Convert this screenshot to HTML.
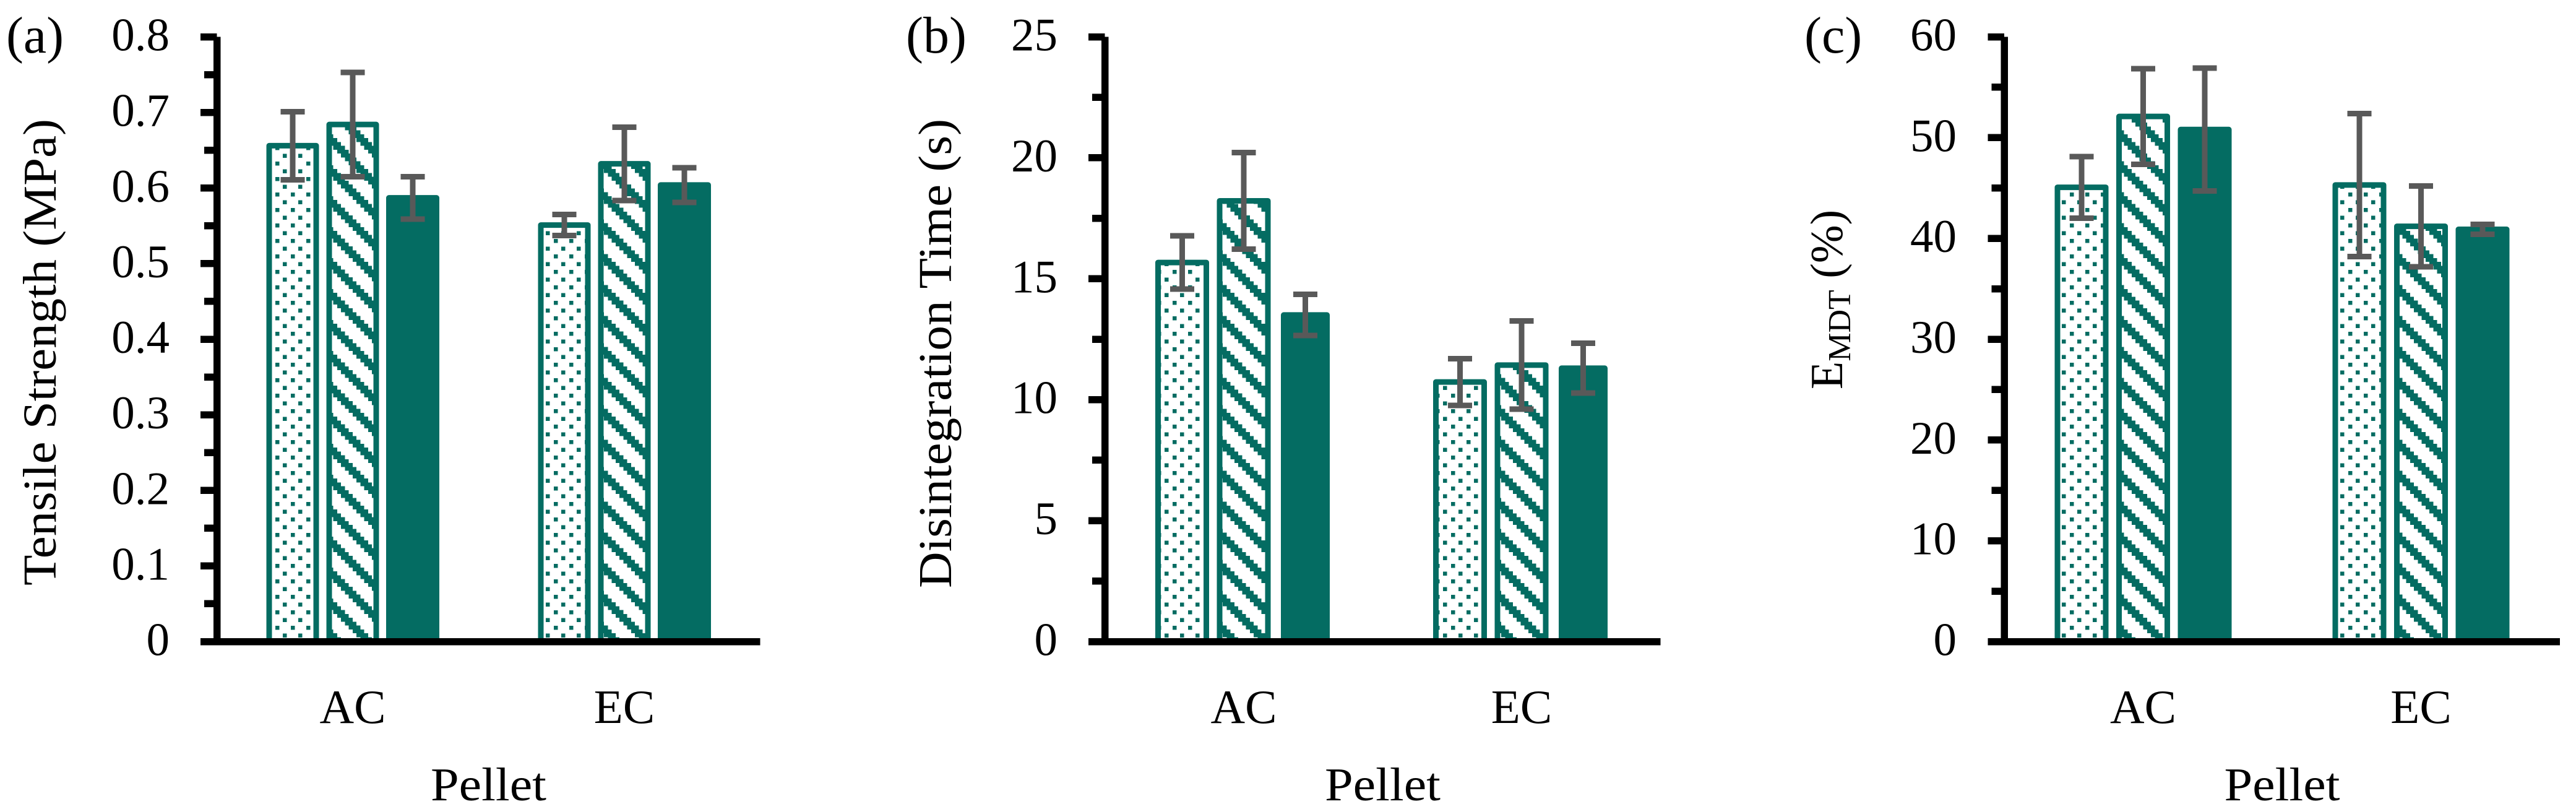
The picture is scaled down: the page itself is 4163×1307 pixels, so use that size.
<!DOCTYPE html>
<html lang="en">
<head>
<meta charset="utf-8">
<title>Pellet tensile strength, disintegration time and EMDT</title>
<style>
html,body{margin:0;padding:0;background:#fff;}
svg{display:block;font-family:"Liberation Serif",serif;fill:#000;}
</style>
</head>
<body>
<svg id="figure" xmlns="http://www.w3.org/2000/svg" width="4163" height="1307" viewBox="0 0 4163 1307">
  <defs>
    <pattern id="dots" patternUnits="userSpaceOnUse" x="7" y="11" width="25" height="25">
      <rect width="25" height="25" fill="#fff"/>
      <rect x="13" y="0" width="6.25" height="6.25" fill="#046c62" shape-rendering="crispEdges"/>
      <rect x="0" y="12.5" width="6.25" height="6.25" fill="#046c62" shape-rendering="crispEdges"/>
    </pattern>
    <pattern id="hatch" patternUnits="userSpaceOnUse" x="1" y="48" width="50" height="50">
      <rect width="50" height="50" fill="#fff"/>
      <g fill="#046c62" shape-rendering="crispEdges">
        <rect x="0" y="0" width="18.75" height="6.25"/>
        <rect x="6.25" y="6.25" width="18.75" height="6.25"/>
        <rect x="12.5" y="12.5" width="18.75" height="6.25"/>
        <rect x="18.75" y="18.75" width="18.75" height="6.25"/>
        <rect x="25" y="25" width="18.75" height="6.25"/>
        <rect x="31.25" y="31.25" width="18.75" height="6.25"/>
        <rect x="37.5" y="37.5" width="12.5" height="6.25"/>
        <rect x="0" y="37.5" width="6.25" height="6.25"/>
        <rect x="43.75" y="43.75" width="6.25" height="6.25"/>
        <rect x="0" y="43.75" width="12.5" height="6.25"/>
      </g>
    </pattern>
  </defs>

  <g id="panel-a">
    <text x="10" y="85" font-size="84" textLength="93" lengthAdjust="spacingAndGlyphs">(a)</text>
    <text transform="translate(90,946) rotate(-90)" font-size="76" textLength="754" lengthAdjust="spacingAndGlyphs">Tensile Strength (MPa)</text>
    <text x="789.5" y="1293" font-size="76" text-anchor="middle" textLength="187" lengthAdjust="spacingAndGlyphs">Pellet</text>
  </g>
  <g id="panel-b">
    <text x="1464" y="85" font-size="84">(b)</text>
    <text transform="translate(1537,950) rotate(-90)" font-size="76" textLength="758" lengthAdjust="spacingAndGlyphs">Disintegration Time (s)</text>
    <text x="2234.5" y="1293" font-size="76" text-anchor="middle" textLength="187" lengthAdjust="spacingAndGlyphs">Pellet</text>
  </g>
  <g id="panel-c">
    <text x="2916" y="85" font-size="84">(c)</text>
    <text transform="translate(2977,629) rotate(-90)" font-size="74">E<tspan font-size="52" dy="13">MDT</tspan><tspan dy="-13"> (%)</tspan></text>
    <text x="3688" y="1293" font-size="76" text-anchor="middle" textLength="187" lengthAdjust="spacingAndGlyphs">Pellet</text>
  </g>
</svg>

<script>
// Shared categories and series
const categories = ['AC', 'EC'];
const seriesNames = ['dotted', 'hatched', 'solid'];

// Panel (a): tensile strength (MPa)
const tensileTicks = ['0', '0.1', '0.2', '0.3', '0.4', '0.5', '0.6', '0.7', '0.8'];
const tensileDotted = [0.656, 0.551];
const tensileHatched = [0.684, 0.632];
const tensileSolid = [0.587, 0.604];
const tensileDottedErr = [0.045, 0.014];
const tensileHatchedErr = [0.069, 0.0485];
const tensileSolidErr = [0.028, 0.023];

// Panel (b): disintegration time (s)
const timeTicks = ['0', '5', '10', '15', '20', '25'];
const timeDotted = [15.67, 10.73];
const timeHatched = [18.22, 11.43];
const timeSolid = [13.5, 11.3];
const timeDottedErr = [1.1, 0.97];
const timeHatchedErr = [2.0, 1.82];
const timeSolidErr = [0.85, 1.03];

// Panel (c): EMDT (%)
const emdtTicks = ['0', '10', '20', '30', '40', '50', '60'];
const emdtDotted = [45.07, 45.3];
const emdtHatched = [52.1, 41.2];
const emdtSolid = [50.8, 40.9];
const emdtDottedErr = [3.05, 7.1];
const emdtHatchedErr = [4.75, 4.0];
const emdtSolidErr = [6.1, 0.5];

const SVG_NS = 'http://www.w3.org/2000/svg';
const TEAL = '#046c62';
const GREY = '#595959';
const Y_ZERO = 1036.5;
const Y_TOP = 59.5;

function make(parent, tag, attrs) {
  const el = document.createElementNS(SVG_NS, tag);
  for (const k in attrs) el.setAttribute(k, attrs[k]);
  parent.appendChild(el);
  return el;
}

function drawPanel(panelId, opts) {
  const root = document.getElementById(panelId);
  const yScale = v => Y_ZERO - (v / opts.max) * (Y_ZERO - Y_TOP);
  const bandCenter = i => opts.x0 + (i + 0.5) * opts.band;
  const barCenter = (i, s) => bandCenter(i) + (s - 1) * opts.step;

  // Bars and error bars
  opts.values.forEach((series, s) => {
    series.forEach((v, i) => {
      const cx = barCenter(i, s);
      const isSolid = seriesNames[s] === 'solid';
      const outer = isSolid ? opts.solidWidth : opts.barWidth;
      const inner = outer - 9;
      const top = yScale(v);
      const fill = isSolid ? TEAL : 'url(#' + (seriesNames[s] === 'dotted' ? 'dots' : 'hatch') + ')';
      const bar = make(root, 'rect', {
        x: cx - inner / 2, y: top, width: inner, height: Y_ZERO - top,
        fill: fill, stroke: TEAL, 'stroke-width': 9, 'stroke-linejoin': 'round'
      });
      
      

      const err = opts.errors[s][i];
      const hi = yScale(v + err);
      const lo = yScale(v - err);
      const group = make(root, 'g', { stroke: GREY, 'stroke-width': 9, fill: 'none', 'shape-rendering': 'crispEdges' });
      
      
      make(group, 'line', { x1: cx, x2: cx, y1: hi, y2: lo });
      make(group, 'line', { x1: cx - 19.5, x2: cx + 19.5, y1: hi, y2: hi });
      make(group, 'line', { x1: cx - 19.5, x2: cx + 19.5, y1: lo, y2: lo });
    });
  });

  // Y axis: line, major/minor ticks, labels
  const axis = make(root, 'g', { stroke: '#000', 'stroke-width': 11.5, 'shape-rendering': 'crispEdges' });
  
  
  make(axis, 'line', { x1: opts.x0, x2: opts.x0, y1: Y_TOP, y2: Y_ZERO });

  opts.ticks.forEach((label, idx) => {
    const val = parseFloat(label);
    const y = yScale(val);
    const tick = make(axis, 'line', { x1: opts.x0 - 26.5, x2: opts.x0, y1: y, y2: y });
    
    
    if (idx < opts.ticks.length - 1) {
      const mid = (val + parseFloat(opts.ticks[idx + 1])) / 2;
      const minor = make(axis, 'line', { x1: opts.x0 - 20.5, x2: opts.x0, y1: yScale(mid), y2: yScale(mid) });
      
      
    }
    const text = make(root, 'text', { x: opts.labelRight, y: y + 22, 'font-size': 75, 'text-anchor': 'end' });
    
    
    text.textContent = label;
  });

  // X axis: line and category labels
  const xAxis = make(root, 'line', {
    x1: opts.x0 - 26.5, x2: opts.x0 + 2 * opts.band, y1: Y_ZERO, y2: Y_ZERO,
    stroke: '#000', 'stroke-width': 11.5, 'shape-rendering': 'crispEdges'
  });
  
  

  categories.forEach((c, i) => {
    const text = make(root, 'text', { x: bandCenter(i), y: 1168, 'font-size': 77, 'text-anchor': 'middle' });
    
    
    text.textContent = c;
  });
}

drawPanel('panel-a', {
  max: 0.8, ticks: tensileTicks, x0: 350.5, band: 439, step: 97, barWidth: 85, solidWidth: 86, labelRight: 274,
  values: [tensileDotted, tensileHatched, tensileSolid],
  errors: [tensileDottedErr, tensileHatchedErr, tensileSolidErr]
});
drawPanel('panel-b', {
  max: 25, ticks: timeTicks, x0: 1785.5, band: 449, step: 99.5, barWidth: 87, solidWidth: 79, labelRight: 1709,
  values: [timeDotted, timeHatched, timeSolid],
  errors: [timeDottedErr, timeHatchedErr, timeSolidErr]
});
drawPanel('panel-c', {
  max: 60, ticks: emdtTicks, x0: 3239, band: 449, step: 99.5, barWidth: 87, solidWidth: 87, labelRight: 3162,
  values: [emdtDotted, emdtHatched, emdtSolid],
  errors: [emdtDottedErr, emdtHatchedErr, emdtSolidErr]
});
</script>
</body>
</html>
